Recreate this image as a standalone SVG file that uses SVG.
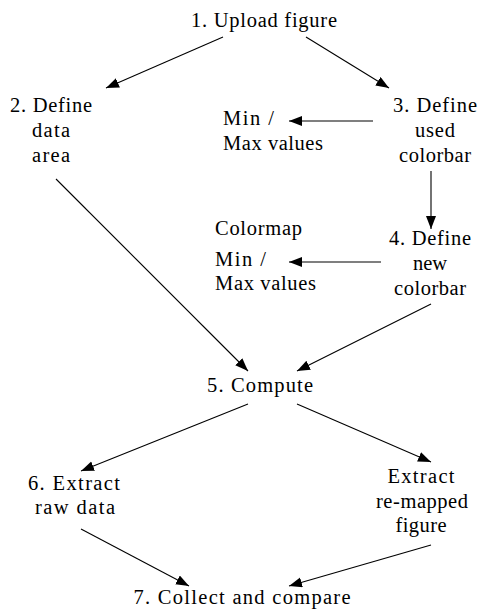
<svg xmlns="http://www.w3.org/2000/svg" width="480" height="611" viewBox="0 0 480 611">
<style>
.c{text-anchor:middle}
.e line{stroke:#000;stroke-width:1.1;fill:none}
</style>
<defs>
<marker id="ah" markerUnits="userSpaceOnUse" markerWidth="14" markerHeight="11" refX="13" refY="5" orient="auto">
<path d="M0,0 L13,5 L0,10 Z" fill="#000"/>
</marker>
</defs>
<rect width="480" height="611" fill="#fff"/>
<g id="edges" class="e">
<line x1="223" y1="37" x2="106" y2="88" marker-end="url(#ah)"/>
<line x1="306" y1="37" x2="389" y2="88" marker-end="url(#ah)"/>
<line x1="373" y1="121" x2="289" y2="121" marker-end="url(#ah)"/>
<line x1="431" y1="171" x2="431" y2="229" marker-end="url(#ah)"/>
<line x1="381" y1="262" x2="289" y2="262" marker-end="url(#ah)"/>
<line x1="56" y1="179" x2="248" y2="371" marker-end="url(#ah)"/>
<line x1="431" y1="304" x2="297" y2="371" marker-end="url(#ah)"/>
<line x1="248" y1="404" x2="81" y2="471" marker-end="url(#ah)"/>
<line x1="297" y1="404" x2="431" y2="462" marker-end="url(#ah)"/>
<line x1="81" y1="529" x2="189" y2="586" marker-end="url(#ah)"/>
<line x1="431" y1="545" x2="289" y2="586" marker-end="url(#ah)"/>
</g>
<g id="labels" font-family="'Liberation Serif', serif" font-size="20.5" fill="#000">
<g id="n1"><text font-family="'Liberation Serif', serif" class="c" x="264" y="26.5" textLength="146" lengthAdjust="spacing">1. Upload figure</text></g>
<g id="n2">
<text font-family="'Liberation Serif', serif" class="c" x="51" y="111.7" textLength="82" lengthAdjust="spacing">2. Define</text>
<text font-family="'Liberation Serif', serif" class="c" x="51" y="136.7" textLength="38" lengthAdjust="spacing">data</text>
<text font-family="'Liberation Serif', serif" class="c" x="51" y="161.7" textLength="38" lengthAdjust="spacing">area</text>
</g>
<g id="n3">
<text font-family="'Liberation Serif', serif" class="c" x="435" y="111.7" textLength="84" lengthAdjust="spacing">3. Define</text>
<text font-family="'Liberation Serif', serif" class="c" x="435" y="136.7" textLength="40" lengthAdjust="spacing">used</text>
<text font-family="'Liberation Serif', serif" class="c" x="435" y="161.7" textLength="72" lengthAdjust="spacing">colorbar</text>
</g>
<g id="minmax1">
<text font-family="'Liberation Serif', serif" x="223" y="125" textLength="51" lengthAdjust="spacing">Min /</text>
<text font-family="'Liberation Serif', serif" x="223" y="150" textLength="100" lengthAdjust="spacing">Max values</text>
</g>
<g id="n4">
<text font-family="'Liberation Serif', serif" class="c" x="430" y="245" textLength="82" lengthAdjust="spacing">4. Define</text>
<text font-family="'Liberation Serif', serif" class="c" x="430" y="270" textLength="34" lengthAdjust="spacing">new</text>
<text font-family="'Liberation Serif', serif" class="c" x="430" y="295" textLength="72" lengthAdjust="spacing">colorbar</text>
</g>
<g id="minmax2">
<text font-family="'Liberation Serif', serif" x="215" y="235" textLength="87" lengthAdjust="spacing">Colormap</text>
<text font-family="'Liberation Serif', serif" x="215" y="265.5" textLength="51" lengthAdjust="spacing">Min /</text>
<text font-family="'Liberation Serif', serif" x="215" y="290" textLength="101" lengthAdjust="spacing">Max values</text>
</g>
<g id="n5"><text font-family="'Liberation Serif', serif" class="c" x="260" y="392" textLength="106" lengthAdjust="spacing">5. Compute</text></g>
<g id="n6">
<text font-family="'Liberation Serif', serif" class="c" x="74" y="490" textLength="92" lengthAdjust="spacing">6. Extract</text>
<text font-family="'Liberation Serif', serif" class="c" x="75" y="513.5" textLength="80" lengthAdjust="spacing">raw data</text>
</g>
<g id="nx">
<text font-family="'Liberation Serif', serif" class="c" x="421" y="483" textLength="67" lengthAdjust="spacing">Extract</text>
<text font-family="'Liberation Serif', serif" class="c" x="422" y="507.5" textLength="92" lengthAdjust="spacing">re-mapped</text>
<text font-family="'Liberation Serif', serif" class="c" x="421" y="532" textLength="51" lengthAdjust="spacing">figure</text>
</g>
<g id="n7"><text font-family="'Liberation Serif', serif" class="c" x="242" y="604" textLength="217" lengthAdjust="spacing">7. Collect and compare</text></g>
</g>
</svg>
